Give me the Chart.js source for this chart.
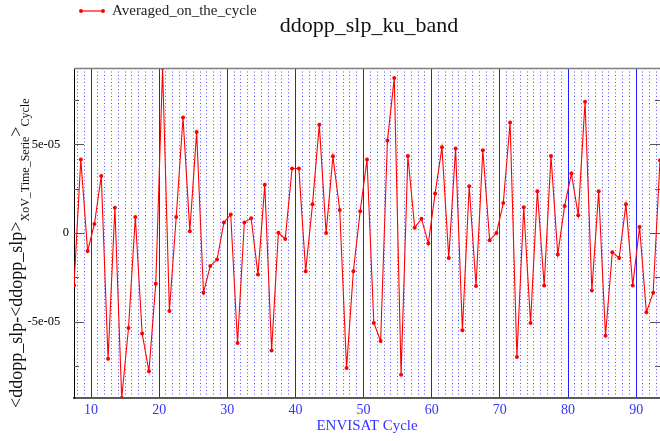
<!DOCTYPE html>
<html>
<head>
<meta charset="utf-8">
<script src="https://cdn.jsdelivr.net/npm/chart.js@4/dist/chart.umd.min.js"></script>
<style>
  html, body { margin: 0; padding: 0; background: #fff; }
  #wrap { width: 660px; height: 441px; }
</style>
</head>
<body>
<div id="wrap"><canvas id="c" width="660" height="441"></canvas></div>
<script>
// Cycle-averaged ddopp_slp residuals, one point per ENVISAT cycle
const cycles = [
  7.5, 8.5, 9.5, 10.5, 11.5, 12.5, 13.5, 14.5, 15.5, 16.5,
  17.5, 18.5, 19.5, 20.5, 21.5, 22.5, 23.5, 24.5, 25.5, 26.5,
  27.5, 28.5, 29.5, 30.5, 31.5, 32.5, 33.5, 34.5, 35.5, 36.5,
  37.5, 38.5, 39.5, 40.5, 41.5, 42.5, 43.5, 44.5, 45.5, 46.5,
  47.5, 48.5, 49.5, 50.5, 51.5, 52.5, 53.5, 54.5, 55.5, 56.5,
  57.5, 58.5, 59.5, 60.5, 61.5, 62.5, 63.5, 64.5, 65.5, 66.5,
  67.5, 68.5, 69.5, 70.5, 71.5, 72.5, 73.5, 74.5, 75.5, 76.5,
  77.5, 78.5, 79.5, 80.5, 81.5, 82.5, 83.5, 84.5, 85.5, 86.5,
  87.5, 88.5, 89.5, 90.5, 91.5, 92.5, 93.5
];
const averagedOnTheCycle = [
  -2.95e-5, 4.15e-5, -1.02e-5, 0.51e-5, 3.22e-5, -7.10e-5, 1.43e-5, -9.32e-5, -5.37e-5, 0.90e-5,
  -5.68e-5, -7.81e-5, -2.86e-5, 9.32e-5, -4.41e-5, 0.90e-5, 6.52e-5, 0.10e-5, 5.71e-5, -3.37e-5,
  -1.86e-5, -1.50e-5, 0.60e-5, 1.04e-5, -6.21e-5, 0.60e-5, 0.83e-5, -2.35e-5, 2.73e-5, -6.63e-5,
  0.02e-5, -0.34e-5, 3.64e-5, 3.64e-5, -2.16e-5, 1.62e-5, 6.12e-5, 0.00e-5, 4.33e-5, 1.30e-5,
  -7.63e-5, -2.16e-5, 1.23e-5, 4.15e-5, -5.08e-5, -6.10e-5, 5.22e-5, 8.76e-5, -8.00e-5, 4.35e-5,
  0.30e-5, 0.81e-5, -0.60e-5, 2.23e-5, 4.84e-5, -1.41e-5, 4.77e-5, -5.50e-5, 2.64e-5, -2.99e-5,
  4.67e-5, -0.41e-5, 0.00e-5, 1.69e-5, 6.24e-5, -7.00e-5, 1.45e-5, -5.08e-5, 2.36e-5, -2.97e-5,
  4.35e-5, -1.22e-5, 1.53e-5, 3.36e-5, 1.00e-5, 7.42e-5, -3.25e-5, 2.36e-5, -5.80e-5, -1.09e-5,
  -1.41e-5, 1.62e-5, -2.97e-5, 0.34e-5, -4.48e-5, -3.37e-5, 4.11e-5
];

// Axis ticks
const majorCycles = [10, 20, 30, 40, 50, 60, 70, 80, 90];
const minorCycles = [
  8, 9, 11, 12, 13, 14, 15, 16, 17, 18, 19, 21, 22, 23, 24, 25, 26, 27, 28, 29,
  31, 32, 33, 34, 35, 36, 37, 38, 39, 41, 42, 43, 44, 45, 46, 47, 48, 49,
  51, 52, 53, 54, 55, 56, 57, 58, 59, 61, 62, 63, 64, 65, 66, 67, 68, 69,
  71, 72, 73, 74, 75, 76, 77, 78, 79, 81, 82, 83, 84, 85, 86, 87, 88, 89,
  91, 92, 93
];
const yTicks = [-7.5e-5, -5e-5, -2.5e-5, 0, 2.5e-5, 5e-5, 7.5e-5];
const yLabelStep = 5e-5;

const seriesName = 'Averaged_on_the_cycle';
const chartTitle = 'ddopp_slp_ku_band';
const xTitle = 'ENVISAT Cycle';
const yTitleParts = [
  { text: '<ddopp_slp-<ddopp_slp>', sub: false },
  { text: 'XoV_Time_Serie', sub: true },
  { text: '>', sub: false },
  { text: 'Cycle', sub: true }
];

const SERIF = '"Liberation Serif", "Times New Roman", serif';
const RED = '#ff0000';
const BLUE = '#3434ff';

const xMin = Math.min(...cycles);
const xMax = Math.max(...cycles);
const yMin = Math.min(...averagedOnTheCycle);
const yMax = Math.max(...averagedOnTheCycle);

function isMajorY(v) {
  const r = v / yLabelStep;
  return Math.abs(r - Math.round(r)) < 1e-6;
}

// "5e-05" style labels; the zero label sits closer to the axis
function yLabel(v) {
  if (!isMajorY(v)) return '';
  if (Math.abs(v) < 1e-12) return '0';
  const [m, e] = v.toExponential().split('e');
  const neg = e[0] === '-';
  const digits = e.replace(/^[+-]/, '').padStart(2, '0');
  return m + 'e' + (neg ? '-' : '') + digits + '\u2002\u2009';
}

// Frame, inward tick marks, legend, title and the y-axis title
const decorations = {
  id: 'decorations',
  afterDraw(chart) {
    const { ctx, chartArea: a } = chart;
    const ys = chart.scales.y;
    ctx.save();

    // top frame line
    ctx.strokeStyle = '#808080';
    ctx.lineWidth = 1.5;
    ctx.beginPath();
    ctx.moveTo(a.left, a.top + 0.5);
    ctx.lineTo(a.right, a.top + 0.5);
    ctx.stroke();

    // inward tick marks on both vertical sides
    ctx.strokeStyle = '#555';
    ctx.lineWidth = 1;
    ys.ticks.forEach(t => {
      const py = Math.round(ys.getPixelForValue(t.value)) + 0.5;
      const len = isMajorY(t.value) ? 10 : 5;
      ctx.beginPath();
      ctx.moveTo(a.left, py); ctx.lineTo(a.left + len, py);
      ctx.moveTo(a.right, py); ctx.lineTo(a.right - len, py);
      ctx.stroke();
    });

    // legend
    const ly = 11;
    ctx.strokeStyle = RED;
    ctx.fillStyle = RED;
    ctx.lineWidth = 1.2;
    ctx.beginPath();
    ctx.moveTo(80, ly); ctx.lineTo(104, ly);
    ctx.stroke();
    [81, 103].forEach(px => {
      ctx.beginPath(); ctx.arc(px, ly, 2, 0, Math.PI * 2); ctx.fill();
    });
    ctx.fillStyle = '#222';
    ctx.font = '15px ' + SERIF;
    ctx.textAlign = 'left';
    ctx.textBaseline = 'middle';
    ctx.fillText(seriesName, 112, ly);

    // title
    ctx.font = '22px ' + SERIF;
    ctx.textAlign = 'center';
    ctx.fillStyle = '#111';
    ctx.fillText(chartTitle, 369, 26);

    // rotated y title with subscripts
    ctx.translate(22, a.bottom + 10);
    ctx.rotate(-Math.PI / 2);
    ctx.textAlign = 'left';
    ctx.textBaseline = 'alphabetic';
    ctx.fillStyle = '#111';
    let x = 0;
    yTitleParts.forEach(p => {
      ctx.font = (p.sub ? '12px ' : '18px ') + SERIF;
      ctx.fillText(p.text, x, p.sub ? 6.5 : 0);
      x += ctx.measureText(p.text).width;
    });
    ctx.restore();
  }
};

new Chart(document.getElementById('c'), {
  type: 'line',
  data: {
    datasets: [{
      label: seriesName,
      data: cycles.map((c, i) => ({ x: c, y: averagedOnTheCycle[i] })),
      borderColor: RED,
      borderWidth: 1.1,
      backgroundColor: RED,
      pointRadius: 2,
      pointBorderWidth: 0,
      pointBackgroundColor: RED,
      tension: 0,
      xAxisID: 'x',
      yAxisID: 'y'
    }]
  },
  options: {
    responsive: false,
    animation: false,
    devicePixelRatio: 1,
    layout: { autoPadding: false, padding: { top: 68, left: 0, right: 0, bottom: 0 } },
    plugins: { legend: { display: false }, tooltip: { enabled: false }, title: { display: false } },
    scales: {
      x: {
        type: 'linear',
        position: 'bottom',
        min: xMin,
        max: xMax,
        afterBuildTicks: s => { s.ticks = majorCycles.map(v => ({ value: v })); },
        afterFit: s => { s.height = 43; },
        grid: { color: '#1f1fff', lineWidth: 1, drawTicks: false },
        border: { color: '#5a5a5a', width: 2 },
        ticks: {
          autoSkip: false, maxRotation: 0, padding: 4, color: BLUE,
          font: { family: SERIF, size: 14 },
          callback: v => String(v)
        },
        title: {
          display: true, text: xTitle, color: BLUE,
          font: { family: SERIF, size: 15 },
          padding: { top: 0, bottom: 6 }
        }
      },
      xMinor: {
        type: 'linear',
        position: 'bottom',
        min: xMin,
        max: xMax,
        afterBuildTicks: s => { s.ticks = minorCycles.map(v => ({ value: v })); },
        afterFit: s => { s.height = 0; },
        grid: { color: 'rgba(40,40,255,0.8)', lineWidth: 1, drawTicks: false, borderDash: [1, 2.5] },
        border: { display: false, dash: [1, 2.5] },
        ticks: { display: false }
      },
      y: {
        type: 'linear',
        min: yMin,
        max: yMax,
        afterBuildTicks: s => { s.ticks = yTicks.map(v => ({ value: v })); },
        afterFit: s => { s.width = 74; },
        grid: { display: false, drawTicks: false, tickLength: 0 },
        border: { display: true, color: '#000', width: 1 },
        ticks: {
          autoSkip: false, padding: 5, color: '#000',
          font: { family: SERIF, size: 12.5 },
          callback: v => yLabel(v)
        }
      }
    }
  },
  plugins: [decorations]
});
</script>
</body>
</html>
